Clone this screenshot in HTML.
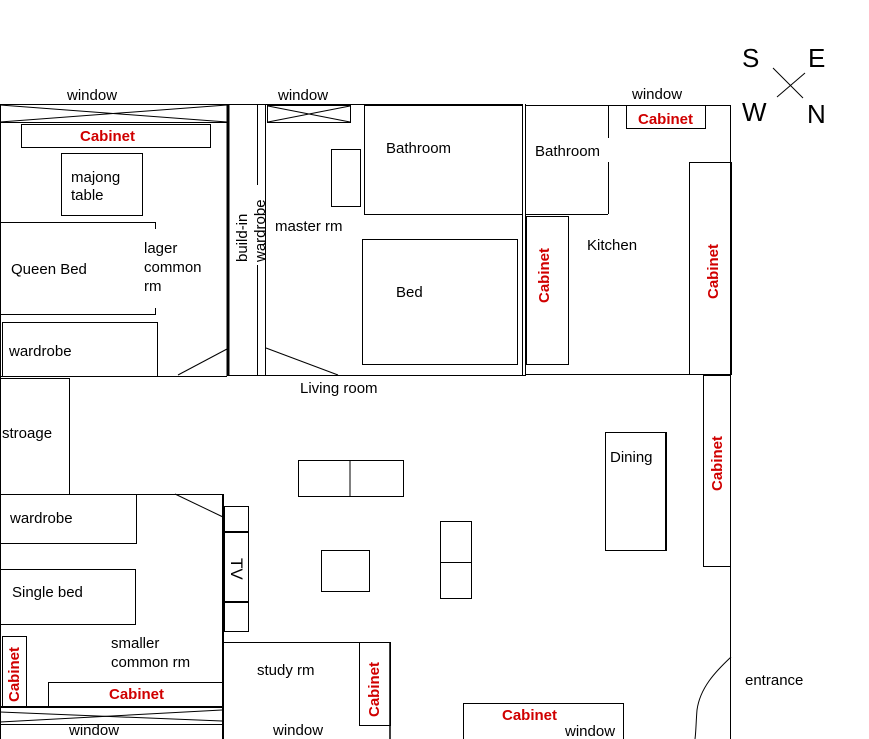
<!DOCTYPE html>
<html><head><style>
html,body{margin:0;padding:0;background:#fff;}
svg{display:block;}
text{font-family:"Liberation Sans",Arial,sans-serif;font-size:15px;fill:#000;}
.r{fill:#d00000;font-weight:bold;font-size:15px;}
.b{font-weight:bold;}
</style></head><body>
<svg width="869" height="739" viewBox="0 0 869 739" xmlns="http://www.w3.org/2000/svg">
<g stroke="#000" stroke-width="1" fill="none">
<!-- top wall -->
<line x1="0" y1="104.5" x2="522" y2="104.5"/>
<line x1="525" y1="105.5" x2="730" y2="105.5"/>
<!-- left window -->
<line x1="0" y1="122.5" x2="227" y2="122.5"/>
<line x1="0" y1="105" x2="227" y2="122"/>
<line x1="0" y1="122" x2="227" y2="105"/>
<line x1="0.5" y1="104" x2="0.5" y2="739"/>
<!-- left room -->
<rect x="21.5" y="124.5" width="189" height="23"/>
<rect x="61.5" y="153.5" width="81" height="62"/>
<polyline points="0,222.5 155.5,222.5 155.5,229"/>
<polyline points="0,314.5 155.5,314.5 155.5,308"/>
<rect x="2.5" y="322.5" width="155" height="54"/>
<line x1="178" y1="375" x2="227" y2="349"/>
<line x1="0" y1="376.5" x2="227" y2="376.5"/>
<line x1="228" y1="105" x2="228" y2="376" stroke-width="3"/>
<line x1="257.5" y1="105" x2="257.5" y2="185"/>
<line x1="257.5" y1="265" x2="257.5" y2="376"/>
<line x1="265.5" y1="105" x2="265.5" y2="376"/>
<!-- master -->
<rect x="267.5" y="105.5" width="83" height="17"/>
<line x1="268" y1="106" x2="350" y2="122"/>
<line x1="268" y1="122" x2="350" y2="106"/>
<rect x="331.5" y="149.5" width="29" height="57"/>
<rect x="364.5" y="105.5" width="158" height="109"/>
<rect x="362.5" y="239.5" width="155" height="125"/>
<line x1="266" y1="348" x2="338" y2="375"/>
<line x1="228" y1="375.5" x2="525" y2="375.5"/>
<line x1="522.5" y1="104" x2="522.5" y2="376"/>
<line x1="525.5" y1="104" x2="525.5" y2="376"/>
<!-- kitchen side -->
<line x1="525" y1="214.5" x2="608" y2="214.5"/>
<line x1="608.5" y1="105" x2="608.5" y2="138"/>
<line x1="608.5" y1="162" x2="608.5" y2="214"/>
<rect x="626.5" y="105.5" width="79" height="23"/>
<rect x="526.5" y="216.5" width="42" height="148"/>
<line x1="730.5" y1="105" x2="730.5" y2="739"/>
<line x1="731" y1="162" x2="731" y2="375" stroke-width="2"/>
<rect x="689.5" y="162.5" width="41" height="212"/>
<line x1="525" y1="374.5" x2="730" y2="374.5"/>
<!-- compass -->
<line x1="773" y1="68" x2="803" y2="98"/>
<line x1="805" y1="73" x2="777" y2="97"/>
<!-- living -->
<rect x="703.5" y="375.5" width="27" height="191"/>
<rect x="605.5" y="432.5" width="60" height="118"/>
<line x1="666" y1="432" x2="666" y2="551" stroke-width="2"/>
<path d="M731,657 C715,672 700,688 697,710 C696,722 696,732 695,739"/>
<polyline points="0,378.5 69.5,378.5 69.5,494"/>
<rect x="298.5" y="460.5" width="105" height="36"/>
<line x1="350" y1="460" x2="350" y2="496"/>
<rect x="321.5" y="550.5" width="48" height="41"/>
<rect x="440.5" y="521.5" width="31" height="77"/>
<line x1="440" y1="562.5" x2="471" y2="562.5"/>
<!-- lower left -->
<line x1="0" y1="494.5" x2="223" y2="494.5"/>
<line x1="223" y1="494" x2="223" y2="739" stroke-width="2"/>
<line x1="175" y1="494" x2="223" y2="517"/>
<rect x="0.5" y="494.5" width="136" height="49"/>
<rect x="0.5" y="569.5" width="135" height="55"/>
<rect x="2.5" y="636.5" width="24" height="70"/>
<rect x="48.5" y="682.5" width="174" height="24"/>
<line x1="0" y1="707" x2="222" y2="707" stroke-width="2"/>
<line x1="0" y1="722" x2="222" y2="710"/>
<line x1="0" y1="712" x2="222" y2="721"/>
<line x1="0" y1="724.5" x2="222" y2="724.5"/>
<rect x="224.5" y="506.5" width="24" height="125"/>
<line x1="224" y1="532" x2="248" y2="532" stroke-width="2"/>
<line x1="224" y1="602" x2="248" y2="602" stroke-width="2"/>
<!-- study -->
<line x1="223" y1="642.5" x2="390" y2="642.5"/>
<rect x="359.5" y="642.5" width="31" height="83"/>
<line x1="390" y1="642" x2="390" y2="739" stroke-width="1.5"/>
<polyline points="463.5,739 463.5,703.5 623.5,703.5 623.5,739"/>
</g>
<text x="67" y="100">window</text>
<text x="278" y="100">window</text>
<text x="632" y="99">window</text>
<text x="80" y="141" class="r">Cabinet</text>
<text x="71" y="182">majong</text>
<text x="71" y="200">table</text>
<text x="11" y="274">Queen Bed</text>
<text x="144" y="253">lager</text>
<text x="144" y="272">common</text>
<text x="144" y="291">rm</text>
<text x="9" y="356">wardrobe</text>
<text transform="translate(247,262) rotate(-90)">build-in</text>
<text transform="translate(265,262) rotate(-90)">wardrobe</text>
<text x="275" y="231">master rm</text>
<text x="386" y="153">Bathroom</text>
<text x="396" y="297">Bed</text>
<text x="535" y="156">Bathroom</text>
<text x="587" y="250">Kitchen</text>
<text x="638" y="124" class="r">Cabinet</text>
<text transform="translate(549,303) rotate(-90)" class="r">Cabinet</text>
<text transform="translate(718,299) rotate(-90)" class="r">Cabinet</text>
<text x="742" y="67" style="font-size:26px">S</text>
<text x="808" y="67" style="font-size:26px">E</text>
<text x="742" y="121" style="font-size:26px">W</text>
<text x="807" y="123" style="font-size:26px">N</text>
<text x="300" y="393">Living room</text>
<text x="2" y="438">stroage</text>
<text x="610" y="462">Dining</text>
<text transform="translate(722,491) rotate(-90)" class="r">Cabinet</text>
<text x="10" y="523">wardrobe</text>
<text x="12" y="597">Single bed</text>
<text transform="translate(231,558) rotate(90)" style="font-size:17px">TV</text>
<text x="111" y="648">smaller</text>
<text x="111" y="667">common rm</text>
<text transform="translate(19,702) rotate(-90)" class="r">Cabinet</text>
<text x="109" y="699" class="r">Cabinet</text>
<text x="257" y="675">study rm</text>
<text transform="translate(379,717) rotate(-90)" class="r">Cabinet</text>
<text x="69" y="735">window</text>
<text x="273" y="735">window</text>
<text x="502" y="720" class="r">Cabinet</text>
<text x="565" y="736">window</text>
<text x="745" y="685">entrance</text>
</svg>
</body></html>
